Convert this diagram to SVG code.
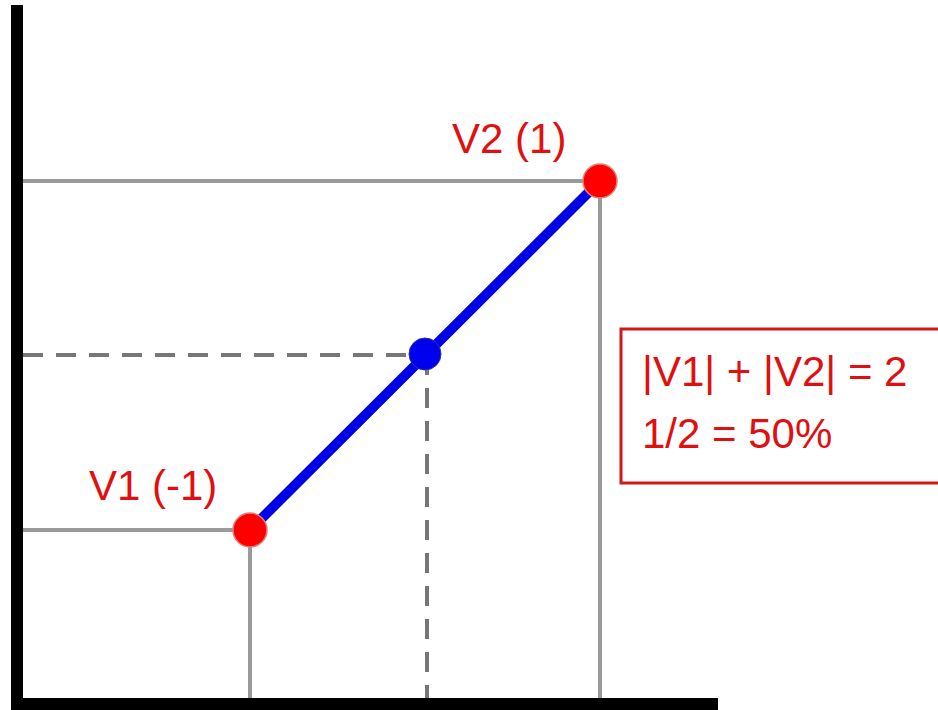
<svg xmlns="http://www.w3.org/2000/svg" width="938" height="710" viewBox="0 0 938 710">
<style>
.grid{stroke:#9a9a9a;stroke-width:4;fill:none}
.dash{stroke:#777;stroke-width:4;fill:none;stroke-dasharray:20 13}
.axis{stroke:#000;stroke-width:12;fill:none}
.lbl{font-family:"Liberation Sans",Arial,sans-serif;font-size:42px;fill:#e01010}
.pt{fill:#ff0000;stroke:#e08080;stroke-width:1.5}
</style>
<rect width="938" height="710" fill="#fff"/>
<g id="connectors">
<line class="grid" x1="23" y1="181" x2="600" y2="181"/>
<line class="grid" x1="600" y1="181" x2="600" y2="700"/>
<line class="grid" x1="23" y1="530" x2="250" y2="530"/>
<line class="grid" x1="250" y1="530" x2="250" y2="700"/>
<line class="dash" x1="23" y1="355" x2="425" y2="355"/>
<line class="dash" x1="427" y1="355" x2="427" y2="700"/>
<line x1="250" y1="530" x2="600" y2="181" stroke="#0000e6" stroke-width="10"/>
</g>
<g id="axes">
<line class="axis" x1="17" y1="5" x2="17" y2="710"/>
<line class="axis" x1="11" y1="704" x2="718" y2="704"/>
</g>
<g id="v1">
<circle class="pt" cx="250" cy="530" r="17"/>
<text class="lbl" x="89" y="500">V1 (-1)</text>
</g>
<g id="v2">
<circle class="pt" cx="600" cy="181" r="17"/>
<text class="lbl" x="452" y="153">V2 (1)</text>
</g>
<g id="mid">
<circle cx="425" cy="354" r="16" fill="#0000ee" stroke="#3030a0" stroke-width="1"/>
</g>
<g id="box">
<rect x="621" y="329" width="330" height="154" fill="#fff" stroke="#d01818" stroke-width="3"/>
<text class="lbl" x="642" y="386">|V1| + |V2| = 2</text>
<text class="lbl" x="642" y="448">1/2 = 50%</text>
</g>
</svg>
